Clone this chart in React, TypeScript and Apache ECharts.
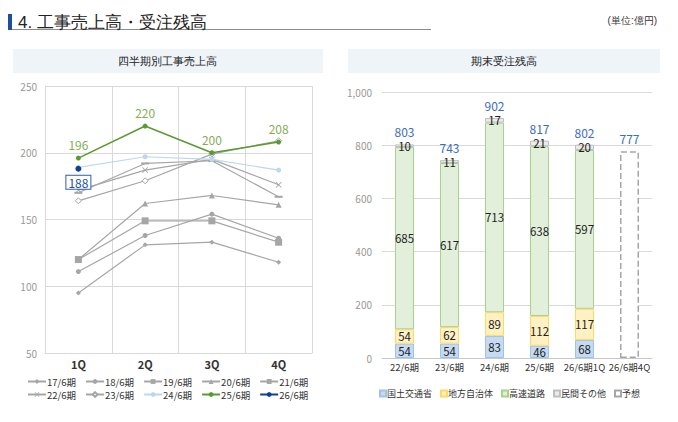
import React, { useEffect, useRef } from "react";
import * as echarts from "echarts";

const quarters = ["1Q", "2Q", "3Q", "4Q"];
const lineNames = ["17/6期", "18/6期", "19/6期", "20/6期", "21/6期", "22/6期", "23/6期", "24/6期", "25/6期", "26/6期"];
const s17 = [95, 131, 133, 118];
const s18 = [111, 138, 154, 136];
const s19 = [120, 149, 149, 133];
const s20 = [120, 162, 168, 161];
const s21 = [170, 192, 194, 167];
const s22 = [172, 187, 195, 176];
const s23 = [164, 179, 199, 209];
const s24 = [189, 197, 195, 187];
const s25 = [196, 220, 200, 208];
const s26 = [188, null, null, null];

const periods = ["22/6期", "23/6期", "24/6期", "25/6期", "26/6期1Q", "26/6期4Q"];
const barNames = ["国土交通省", "地方自治体", "高速道路", "民間その他", "予想"];
const mlit = [54, 54, 83, 46, 68, null];
const localGov = [54, 62, 89, 112, 117, null];
const highway = [685, 617, 713, 638, 597, null];
const privateOther = [10, 11, 17, 21, 20, null];
const forecast = [null, null, null, null, null, 777];
const totals = [803, 743, 902, 817, 802, 777];

const FONT = "'Noto Sans CJK JP', 'Noto Sans', sans-serif";
const GRAY = "#a6a6a6";
const X_SYMBOL = "path://M0,1L1,0L5,4L9,0L10,1L6,5L10,9L9,10L5,6L1,10L0,9L4,5Z";

function grayLine(name: string, data: (number | null)[], symbol: string, symbolSize: any, hollow = false) {
  return {
    type: "line",
    name,
    data,
    xAxisIndex: 0,
    yAxisIndex: 0,
    symbol,
    symbolSize,
    lineStyle: { color: GRAY, width: 1.2 },
    itemStyle: hollow ? { color: "#fff", borderColor: GRAY, borderWidth: 1 } : { color: GRAY },
    z: 2,
  };
}

function barSeries(name: string, data: (number | null)[], color: string, border: string, extra: any = {}) {
  return {
    type: "bar",
    name,
    data,
    stack: "total",
    xAxisIndex: 1,
    yAxisIndex: 1,
    barWidth: 19,
    itemStyle: { color, borderColor: border, borderWidth: 1, ...(extra.itemStyle || {}) },
    label: {
      show: extra.noLabel ? false : true,
      position: "inside",
      color: "#222",
      fontSize: 11.5,
      lineHeight: 11,
      fontFamily: FONT,
    },
  };
}

const legendText = (size: number) => ({
  fontSize: size,
  lineHeight: 11,
  color: "#333",
  fontFamily: FONT,
  padding: [0, 0, 0, -4],
});

export default function App() {
  const ref = useRef<HTMLDivElement>(null);
  useEffect(() => {
    document.body.style.margin = "0";
    const chart = echarts.init(ref.current!, undefined, { renderer: "svg" });
    const option: any = {
      animation: false,
      textStyle: { fontFamily: FONT },
      graphic: [
        { type: "rect", shape: { x: 8, y: 14, width: 4, height: 16 }, style: { fill: "#1e4f9c" } },
        { type: "line", shape: { x1: 12, y1: 29.5, x2: 431, y2: 29.5 }, style: { stroke: "#8c8c8c", lineWidth: 1 } },
        {
          type: "text",
          x: 18,
          y: 22,
          style: { text: "4. 工事売上高・受注残高", fontSize: 17, fill: "#222", font: `17px ${FONT}`, verticalAlign: "middle" },
        },
        {
          type: "text",
          x: 657,
          y: 20,
          style: { text: "(単位:億円)", fontSize: 10, fill: "#333", font: `10px ${FONT}`, align: "right", verticalAlign: "middle" },
        },
        { type: "rect", shape: { x: 13, y: 49, width: 310, height: 24 }, style: { fill: "#eff4f9" } },
        {
          type: "text",
          x: 167,
          y: 61,
          style: { text: "四半期別工事売上高", fontSize: 11, fill: "#222", font: `11px ${FONT}`, align: "center", verticalAlign: "middle" },
        },
        { type: "rect", shape: { x: 348, y: 49, width: 312, height: 24 }, style: { fill: "#eff4f9" } },
        {
          type: "text",
          x: 504,
          y: 61,
          style: { text: "期末受注残高", fontSize: 11, fill: "#222", font: `11px ${FONT}`, align: "center", verticalAlign: "middle" },
        },
      ],
      legend: [
        {
          data: lineNames.slice(0, 5),
          left: 27,
          top: 376,
          padding: 0,
          itemWidth: 18,
          itemHeight: 6,
          itemGap: 9,
          textStyle: legendText(9.5),
        },
        {
          data: lineNames.slice(5),
          left: 27,
          top: 389,
          padding: 0,
          itemWidth: 18,
          itemHeight: 6,
          itemGap: 9,
          textStyle: legendText(9.5),
        },
        {
          data: barNames,
          left: 379,
          top: 388,
          padding: 0,
          icon: "rect",
          itemWidth: 6,
          itemHeight: 6,
          itemGap: 8,
          textStyle: legendText(9),
        },
      ],
      grid: [
        { left: 45, top: 86, width: 267, height: 267 },
        { left: 382, top: 92, width: 270, height: 266 },
      ],
      xAxis: [
        {
          type: "category",
          gridIndex: 0,
          data: quarters,
          axisLine: { show: true, lineStyle: { color: "#d9d9d9" } },
          axisTick: { show: false },
          splitLine: { show: true, lineStyle: { color: "#d9d9d9" } },
          axisLabel: { fontSize: 11, color: "#333", fontWeight: "bold", margin: 5 },
        },
        {
          type: "category",
          gridIndex: 1,
          data: periods,
          axisLine: { show: true, lineStyle: { color: "#c8c8c8" } },
          axisTick: { show: false },
          axisLabel: { fontSize: 9.5, color: "#333", margin: 4, interval: 0 },
        },
      ],
      yAxis: [
        {
          type: "value",
          gridIndex: 0,
          min: 50,
          max: 250,
          interval: 50,
          axisLine: { show: true, lineStyle: { color: "#d9d9d9" } },
          splitLine: { show: true, lineStyle: { color: "#d9d9d9" } },
          axisLabel: { fontSize: 10, color: "#999", margin: 8 },
        },
        {
          type: "value",
          gridIndex: 1,
          min: 0,
          max: 1000,
          interval: 200,
          axisLine: { show: false },
          splitLine: { show: true, lineStyle: { color: "#d9d9d9" } },
          axisLabel: {
            fontSize: 10,
            color: "#999",
            margin: 10,
            formatter: (v: number) => v.toLocaleString("en-US"),
          },
        },
      ],
      series: [
        grayLine(lineNames[0], s17, "diamond", 5),
        grayLine(lineNames[1], s18, "circle", 5),
        grayLine(lineNames[2], s19, "rect", 7),
        grayLine(lineNames[3], s20, "triangle", 6),
        grayLine(lineNames[4], s21, "rect", [8, 2]),
        grayLine(lineNames[5], s22, X_SYMBOL, 6),
        grayLine(lineNames[6], s23, "diamond", 6, true),
        {
          type: "line",
          name: lineNames[7],
          data: s24,
          xAxisIndex: 0,
          yAxisIndex: 0,
          symbol: "circle",
          symbolSize: 5,
          lineStyle: { color: "#bdd7ee", width: 1.2 },
          itemStyle: { color: "#bdd7ee" },
          z: 3,
        },
        {
          type: "line",
          name: lineNames[8],
          data: s25,
          xAxisIndex: 0,
          yAxisIndex: 0,
          symbol: "circle",
          symbolSize: 5,
          lineStyle: { color: "#5b9a32", width: 1.5 },
          itemStyle: { color: "#5b9a32" },
          label: { show: true, position: "top", distance: 5, color: "#86ad55", fontSize: 12, fontFamily: FONT },
          z: 4,
        },
        {
          type: "line",
          name: lineNames[9],
          data: s26,
          xAxisIndex: 0,
          yAxisIndex: 0,
          symbol: "circle",
          symbolSize: 6,
          lineStyle: { color: "#0f3f99", width: 2 },
          itemStyle: { color: "#0f3f99" },
          label: {
            show: true,
            position: "bottom",
            distance: 4,
            color: "#1f4fa8",
            fontSize: 12,
            fontFamily: FONT,
            backgroundColor: "#fff",
            borderColor: "#2d5fb5",
            borderWidth: 1,
            padding: [1, 2, 0, 2],
          },
          z: 5,
        },
        barSeries(barNames[0], mlit, "#c6daf2", "#9dc3e6"),
        barSeries(barNames[1], localGov, "#fff1c4", "#ffd966"),
        barSeries(barNames[2], highway, "#e2efda", "#a9d18e"),
        barSeries(barNames[3], privateOther, "#ebebeb", "#bfbfbf"),
        barSeries(barNames[4], forecast, "#ffffff", "#a6a6a6", {
          noLabel: true,
          itemStyle: { borderType: "dashed", borderWidth: 1.5 },
        }),
        {
          type: "line",
          name: "total",
          data: totals,
          xAxisIndex: 1,
          yAxisIndex: 1,
          symbol: "circle",
          symbolSize: 1,
          lineStyle: { opacity: 0 },
          itemStyle: { color: "transparent" },
          label: { show: true, position: "top", distance: 6, color: "#3a6cc0", fontSize: 12, lineHeight: 12, fontFamily: FONT },
          z: 6,
        },
      ],
    };
    chart.setOption(option);
    return () => chart.dispose();
  }, []);
  return <div ref={ref} style={{ width: 678, height: 422 }} />;
}
